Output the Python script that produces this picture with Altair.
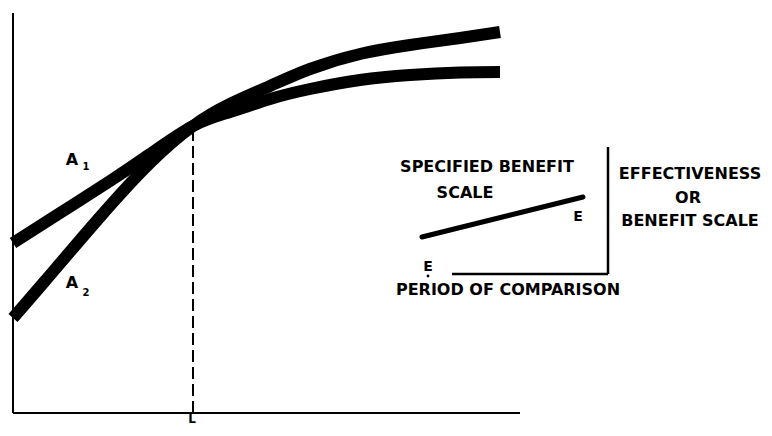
import altair as alt
import pandas as pd

# Curve A1 and A2 (x: time units, y: benefit units)
a1_x = [0, 9.4, 19.4, 27.4, 36, 43.4, 51.4, 59.4, 69.4, 79.4, 89.4, 97.4]
a1_y = [42.5, 50, 58, 64.75, 71.75, 75.25, 78.5, 81, 83.25, 84.5, 85.125, 85.25]
a2_x = [0, 6.4, 17.4, 27.4, 36, 43.4, 51.4, 59.4, 69.4, 79.4, 89.4, 97.4]
a2_y = [23.75, 33, 49, 62.5, 71.75, 77.25, 81.75, 86, 89.75, 92, 93.75, 95.25]

# main axes and dashed marker
axis_x1 = [0, 0]
axis_x2 = [0, 101.4]
axis_y1 = [0, 0]
axis_y2 = [100, 0]
dash_x = [36]
dash_y1 = [0]
dash_y2 = [70.75]

# inset diagram
inset_x1 = [119, 87.8]
inset_x2 = [119, 119]
inset_y1 = [66.5, 34.75]
inset_y2 = [34.75, 34.75]
slant_x = [81.8, 114]
slant_y = [44, 54]

# labels
big_text = ["A", "A", "SPECIFIED BENEFIT", "SCALE", "PERIOD OF COMPARISON",
            "EFFECTIVENESS", "OR", "BENEFIT SCALE"]
big_x = [11.8, 11.8, 94.8, 90.4, 99, 135.4, 135, 135.4]
big_y = [63.25, 32.5, 61.5, 55, 30.75, 59.75, 53.75, 48]
e_text = ["E", "E"]
e_x = [113, 83]
e_y = [49, 36.5]
sub_text = ["1", "2"]
sub_x = [14.6, 14.6]
sub_y = [61.5, 30.0]
l_text = ["L"]
l_x = [35.8]
l_y = [-2.6]

xs = alt.Scale(domain=[-1, 150.2], nice=False, zero=False)
ys = alt.Scale(domain=[-3.75, 101.25], nice=False, zero=False)

curves = pd.DataFrame({
    "x": a1_x + a2_x,
    "y": a1_y + a2_y,
    "s": ["A1"] * len(a1_x) + ["A2"] * len(a2_x),
    "o": list(range(len(a1_x))) + list(range(len(a2_x))),
})
axes = pd.DataFrame({"x": axis_x1, "x2": axis_x2, "y": axis_y1, "y2": axis_y2})
dash = pd.DataFrame({"x": dash_x, "y": dash_y1, "y2": dash_y2})
inset = pd.DataFrame({"x": inset_x1, "x2": inset_x2, "y": inset_y1, "y2": inset_y2})
slant = pd.DataFrame({"x": [slant_x[0]], "x2": [slant_x[1]], "y": [slant_y[0]], "y2": [slant_y[1]]})
bt = pd.DataFrame({"x": big_x, "y": big_y, "t": big_text})
et = pd.DataFrame({"x": e_x, "y": e_y, "t": e_text})
st = pd.DataFrame({"x": sub_x, "y": sub_y, "t": sub_text})
lt = pd.DataFrame({"x": l_x, "y": l_y, "t": l_text})
dot = pd.DataFrame({"x": [83], "y": [34.25]})

X = lambda f="x": alt.X(f"{f}:Q", scale=xs, axis=None)
Y = lambda f="y": alt.Y(f"{f}:Q", scale=ys, axis=None)

curve_layer = alt.Chart(curves).mark_line(
    color="black", strokeWidth=12, strokeCap="butt", interpolate="natural"
).encode(x=X(), y=Y(), detail="s:N", order="o:Q")

axes_layer = alt.Chart(axes).mark_rule(color="black", strokeWidth=2).encode(
    x=X(), x2="x2:Q", y=Y(), y2="y2:Q")

dash_layer = alt.Chart(dash).mark_rule(color="black", strokeWidth=2, strokeDash=[12, 5]).encode(
    x=X(), y=Y(), y2="y2:Q")

inset_layer = alt.Chart(inset).mark_rule(color="black", strokeWidth=2.5).encode(
    x=X(), x2="x2:Q", y=Y(), y2="y2:Q")

slant_layer = alt.Chart(slant).mark_rule(color="black", strokeWidth=5, strokeCap="round").encode(
    x=X(), x2="x2:Q", y=Y(), y2="y2:Q")

font = "DejaVu Sans"
big_layer = alt.Chart(bt).mark_text(
    font=font, fontSize=16, fontWeight="bold", color="black", align="center", baseline="middle"
).encode(x=X(), y=Y(), text="t:N")

e_layer = alt.Chart(et).mark_text(
    font=font, fontSize=14, fontWeight="bold", color="black", align="center", baseline="middle"
).encode(x=X(), y=Y(), text="t:N")

sub_layer = alt.Chart(st).mark_text(
    font=font, fontSize=10, fontWeight="bold", color="black", align="center", baseline="middle"
).encode(x=X(), y=Y(), text="t:N")

l_layer = alt.Chart(lt).mark_text(
    font=font, fontSize=12, fontWeight="bold", color="black", align="center", baseline="alphabetic"
).encode(x=X(), y=Y(), text="t:N")

dot_layer = alt.Chart(dot).mark_point(filled=True, color="black", size=8, opacity=1).encode(
    x=X(), y=Y())

chart = alt.layer(
    axes_layer, dash_layer, curve_layer, inset_layer, slant_layer,
    big_layer, e_layer, sub_layer, l_layer, dot_layer
).properties(
    width=756, height=420,
    autosize=alt.AutoSizeParams(type="none"),
    padding=0,
).configure_view(stroke=None)

chart.save("out.html", embed_options={"renderer": "svg", "actions": False})
